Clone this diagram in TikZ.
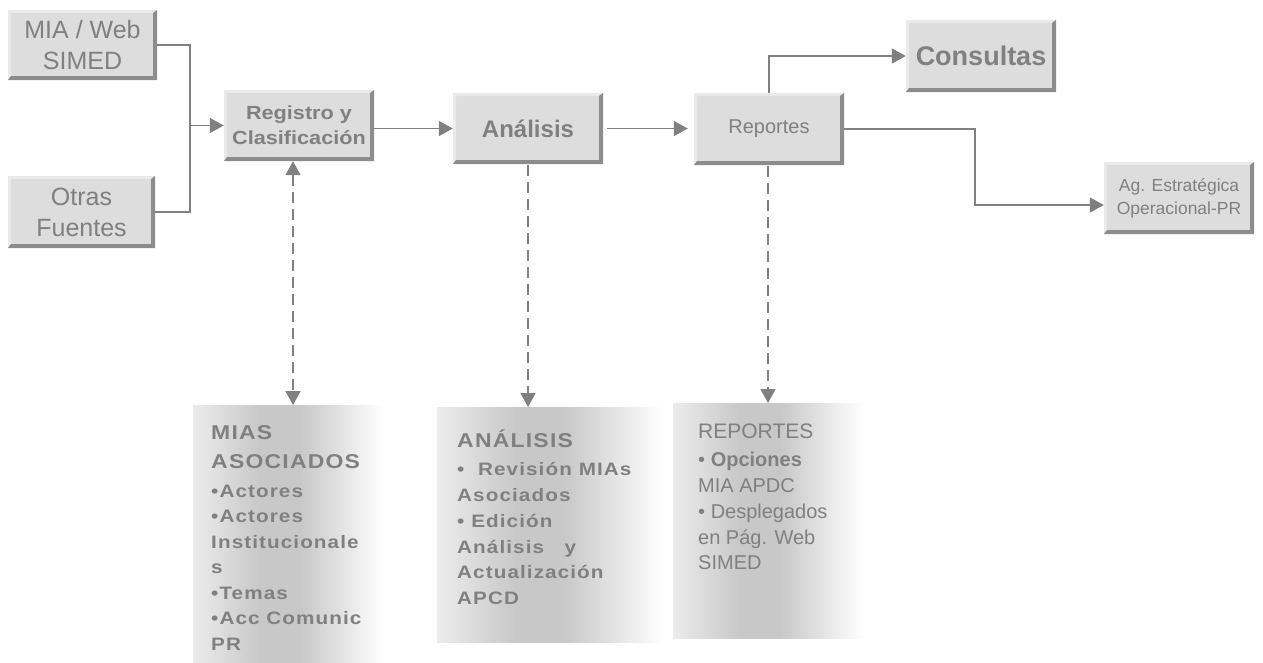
\documentclass[tikz,border=0pt]{standalone}
\usepackage{fontspec}
\setmainfont{Liberation Sans}
\newfontfamily\widefont[FakeStretch=1.15, LetterSpace=6]{Liberation Sans}
\newfontfamily\regfont[FakeStretch=1.14]{Liberation Sans}
\usetikzlibrary{arrows.meta,positioning}

\definecolor{boxfill}{RGB}{221,221,221}
\definecolor{bevlight}{RGB}{234,234,234}
\definecolor{bevdark}{RGB}{140,140,140}
\definecolor{txtgray}{RGB}{128,128,128}
\definecolor{lnkgray}{RGB}{128,128,128}
\definecolor{pnlA}{RGB}{236,236,236}
\definecolor{pnlB}{RGB}{200,200,200}
\pgfdeclarehorizontalshading{panelshade}{100bp}{color(0bp)=(pnlA); color(25bp)=(pnlA); color(41bp)=(pnlB); color(51bp)=(pnlB); color(71bp)=(white); color(100bp)=(white)}

\begin{document}
\begin{tikzpicture}[x=1pt, y=-1pt,
  box/.style={fill=boxfill, text=txtgray, align=center, inner sep=0pt,
    minimum width=150pt, minimum height=71pt,
    path picture={
      \fill[bevlight] (path picture bounding box.north west) -- (path picture bounding box.north east)
        -- ++(-4pt,-3pt) -- ([shift={(3pt,-3pt)}]path picture bounding box.north west)
        -- ([shift={(3pt,4pt)}]path picture bounding box.south west) -- (path picture bounding box.south west) -- cycle;
      \fill[bevdark] (path picture bounding box.north east) -- (path picture bounding box.south east)
        -- (path picture bounding box.south west) -- ([shift={(3pt,4pt)}]path picture bounding box.south west)
        -- ([shift={(-4pt,4pt)}]path picture bounding box.south east)
        -- ([shift={(-4pt,-3pt)}]path picture bounding box.north east) -- cycle;
    }},
  line/.style={draw=lnkgray, line width=1.8pt},
  link/.style={line, -{Triangle[length=14pt,width=15pt]}},
  dashlink/.style={link, dash pattern=on 11pt off 6pt},
  panel/.style={shading=panelshade, anchor=north west, inner sep=0pt, outer sep=0pt},
  paneltext/.style={text=txtgray, align=left, anchor=north west, inner sep=0pt}]

  \useasboundingbox (0,0) rectangle (1263,662);

  % process boxes
  \node[box, minimum width=149pt, minimum height=70pt, font=\fontsize{25}{31}\selectfont] (src1) at (82.5,45)
    {MIA / Web\\SIMED};
  \node[box, minimum width=147pt, minimum height=72pt, font=\fontsize{25}{31}\selectfont] (src2) at (81.5,212)
    {Otras\\Fuentes};
  \node[box, font=\regfont\bfseries\fontsize{19}{25}\selectfont] (reg) at (299,125.5)
    {Registro y\\Clasificación};
  \node[box, font=\bfseries\fontsize{24}{28}\selectfont] (ana) at (528,128.5) {Análisis};
  \node[box, minimum height=72pt, font=\fontsize{20}{24}\selectfont] (rep) at (769,129) {Reportes};
  \node[box, minimum height=72pt, font=\bfseries\fontsize{27}{31}\selectfont] (cons) at (981,56) {Consultas};
  \node[box, minimum height=72pt, font=\fontsize{17.5}{23}\selectfont] (ag) at (1179,198)
    {Ag. Estratégica\\Operacional-PR};

  % detail panels
  \node[panel, minimum width=207pt, minimum height=257pt] (pmias) at (193,405) {};
  \node[panel, minimum width=246pt, minimum height=235pt] (pana) at (437,407) {};
  \node[panel, minimum width=207pt, minimum height=235pt] (prep) at (673,403) {};

  \node[paneltext, font=\widefont\bfseries\fontsize{18}{25.5}\selectfont] (tmias)
    at ([xshift=18pt,yshift=-20pt]pmias.north west)
    {{\fontsize{20}{25.5}\selectfont MIAS}\\[4pt]{\fontsize{20}{25.5}\selectfont ASOCIADOS}\\[3pt]
     •Actores\\•Actores\\Institucionale\\s\\•Temas\\•Acc Comunic\\PR};
  \node[paneltext, font=\widefont\bfseries\fontsize{18}{25.8}\selectfont] (tana)
    at ([xshift=20pt,yshift=-23pt]pana.north west)
    {{\fontsize{20}{25.8}\selectfont ANÁLISIS}\\[2pt]
     •\ \ Revisión MIAs\\Asociados\\• Edición\\Análisis\ \ \ y\\Actualización\\APCD};
  \node[paneltext, font=\fontsize{20}{25.8}\selectfont] (trep)
    at ([xshift=25pt,yshift=-21pt]prep.north west)
    {{\fontsize{21}{25.8}\selectfont REPORTES}\\[2pt]
     • \textbf{Opciones}\\MIA APDC\\• Desplegados\\en Pág. Web\\SIMED};

  % flow connectors
  \coordinate (join) at ([xshift=-34pt]reg.west);
  \draw[line] (src1.east) -| (join);
  \draw[line] (src2.east) -| (join);
  \draw[link] (join) -- (reg.west);
  \draw[link] (reg.east |- ana.west) -- (ana.west);
  \draw[link, shorten <=4pt, shorten >=6pt] (ana.east) -- (rep.west |- ana.east);
  \draw[link] (rep.north) |- (cons.west);
  \coordinate (agin) at ([yshift=-7pt]ag.west);
  \draw[link] (rep.east) -| ([xshift=-129pt]agin) -- (agin);

  % dashed links to panels
  \coordinate (regb) at ([xshift=-6pt]reg.south);
  \draw[dashlink, {Triangle[length=14pt,width=15pt]}-{Triangle[length=14pt,width=15pt]}]
    (regb) -- (regb |- pmias.north);
  \draw[dashlink, shorten <=1pt] (ana.south) -- (ana.south |- pana.north);
  \coordinate (repb) at ([xshift=-1pt]rep.south);
  \draw[dashlink, shorten <=1pt] (repb) -- (repb |- prep.north);

\end{tikzpicture}
\end{document}
